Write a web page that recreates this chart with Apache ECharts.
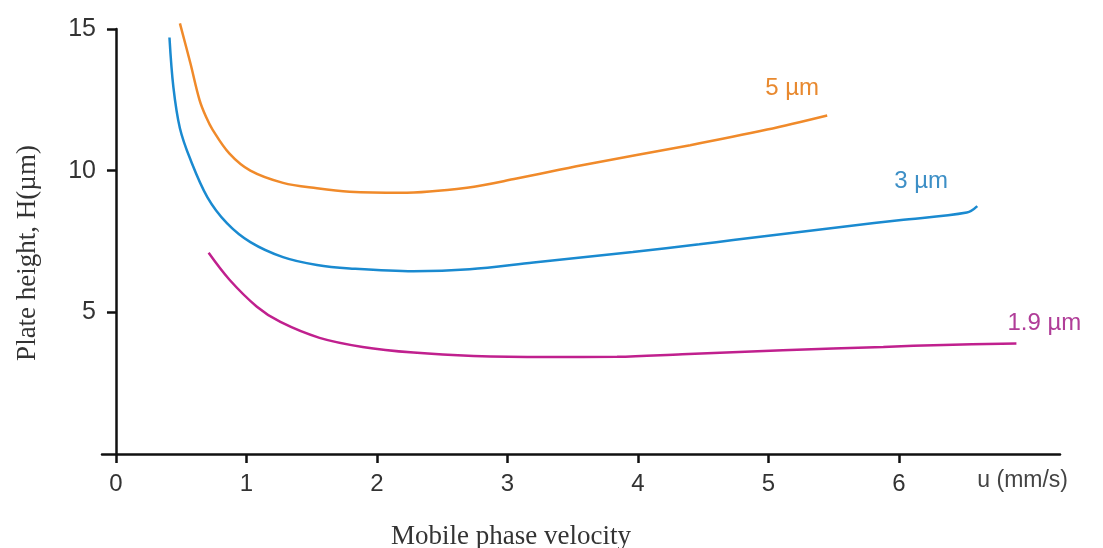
<!DOCTYPE html>
<html>
<head>
<meta charset="utf-8">
<script src="https://cdn.jsdelivr.net/npm/echarts@6/dist/echarts.min.js"></script>
<style>
  html, body { margin: 0; padding: 0; background: #fff; }
  #main { width: 1103px; height: 548px; }
</style>
</head>
<body>
<div id="main"></div>
<script>
// 5 um particles
const u5 = [0.49, 0.57, 0.64, 0.69, 0.74, 0.87, 1.03, 1.28, 1.54, 1.79, 2.18, 2.69, 3.07, 3.58, 4.4, 4.99, 5.45];
const h5 = [15.2, 13.8, 12.5, 11.9, 11.45, 10.6, 10.0, 9.57, 9.38, 9.26, 9.22, 9.4, 9.72, 10.2, 10.9, 11.45, 11.95];
// 3 um particles
const u3 = [0.41, 0.44, 0.49, 0.57, 0.70, 0.85, 1.03, 1.28, 1.54, 1.79, 2.28, 2.71, 3.2, 3.96, 4.47, 4.73, 5.62, 6.0, 6.52, 6.6];
const h3 = [14.7, 12.95, 11.5, 10.4, 9.07, 8.15, 7.48, 6.95, 6.67, 6.55, 6.45, 6.52, 6.76, 7.13, 7.4, 7.55, 8.05, 8.25, 8.52, 8.75];
// 1.9 um particles
const u19 = [0.71, 0.87, 1.08, 1.26, 1.56, 1.89, 2.28, 2.74, 3.3, 3.84, 4.34, 5.11, 5.88, 6.34, 6.9];
const h19 = [7.1, 6.15, 5.2, 4.66, 4.1, 3.78, 3.58, 3.46, 3.42, 3.43, 3.52, 3.66, 3.78, 3.85, 3.9];

const xTicks = [0, 1, 2, 3, 4, 5, 6];
const yTicks = [5, 10, 15];

const names = ['5 µm', '3 µm', '1.9 µm'];
const colors = ['#f08a2a', '#1a8ad0', '#c0208e'];
const labelColors = ['#e8892f', '#3d8fc6', '#b03d98'];

function pairs(xs, ys) {
  return xs.map((x, i) => [x, ys[i]]);
}

const chart = echarts.init(document.getElementById('main'));

function lineSeries(idx, data, offset) {
  return {
    type: 'line',
    name: names[idx],
    data: data,
    smooth: 0.35,
    clip: false,
    showSymbol: false,
    lineStyle: { color: colors[idx], width: 2.5 },
    itemStyle: { color: colors[idx] },
    endLabel: {
      show: true,
      formatter: names[idx],
      color: labelColors[idx],
      fontFamily: 'Liberation Sans',
      fontSize: 24,
      distance: 0,
      align: 'left',
      verticalAlign: 'middle',
      offset: offset,
    },
  };
}

const option = {
  animation: false,
  grid: { left: 102, right: 43, top: 29, bottom: 94, outerBoundsMode: 'none' },
  xAxis: {
    type: 'value',
    min: -0.107,
    max: 7.234,
    splitLine: { show: false },
    axisLine: { onZero: false, lineStyle: { color: '#111', width: 2.5 } },
    axisTick: { show: true, customValues: xTicks, length: 9, lineStyle: { color: '#111', width: 2.5 } },
    axisLabel: {
      customValues: xTicks,
      color: '#333',
      fontFamily: 'Liberation Sans',
      fontSize: 24,
      margin: 18,
    },
  },
  yAxis: {
    type: 'value',
    min: 0,
    max: 15,
    splitLine: { show: false },
    axisLine: { show: true, onZero: true, lineStyle: { color: '#111', width: 2.5 } },
    axisTick: { show: true, customValues: yTicks, length: 9, lineStyle: { color: '#111', width: 2.5 } },
    axisLabel: {
      customValues: yTicks,
      color: '#333',
      fontFamily: 'Liberation Sans',
      fontSize: 25,
      margin: 6,
    },
  },
  graphic: [{
    type: 'text',
    x: 511,
    y: 537,
    style: {
      text: 'Mobile phase velocity',
      fill: '#333',
      font: '27px "Liberation Serif"',
      textAlign: 'center',
      textVerticalAlign: 'middle',
    },
  }, {
    type: 'text',
    x: 28,
    y: 253,
    rotation: Math.PI / 2,
    style: {
      text: 'Plate height, H(µm)',
      fill: '#333',
      font: '27px "Liberation Serif"',
      textAlign: 'center',
      textVerticalAlign: 'middle',
    },
  }, {
    type: 'text',
    x: 1068,
    y: 481,
    style: {
      text: 'u (mm/s)',
      fill: '#444',
      font: '23px "Liberation Sans"',
      textAlign: 'right',
      textVerticalAlign: 'middle',
    },
  }],
  series: [
    lineSeries(0, pairs(u5, h5), [-62, -27]),
    lineSeries(1, pairs(u3, h3), [-83, -25]),
    lineSeries(2, pairs(u19, h19), [-9, -20]),
  ],
};

chart.setOption(option);
</script>
</body>
</html>
